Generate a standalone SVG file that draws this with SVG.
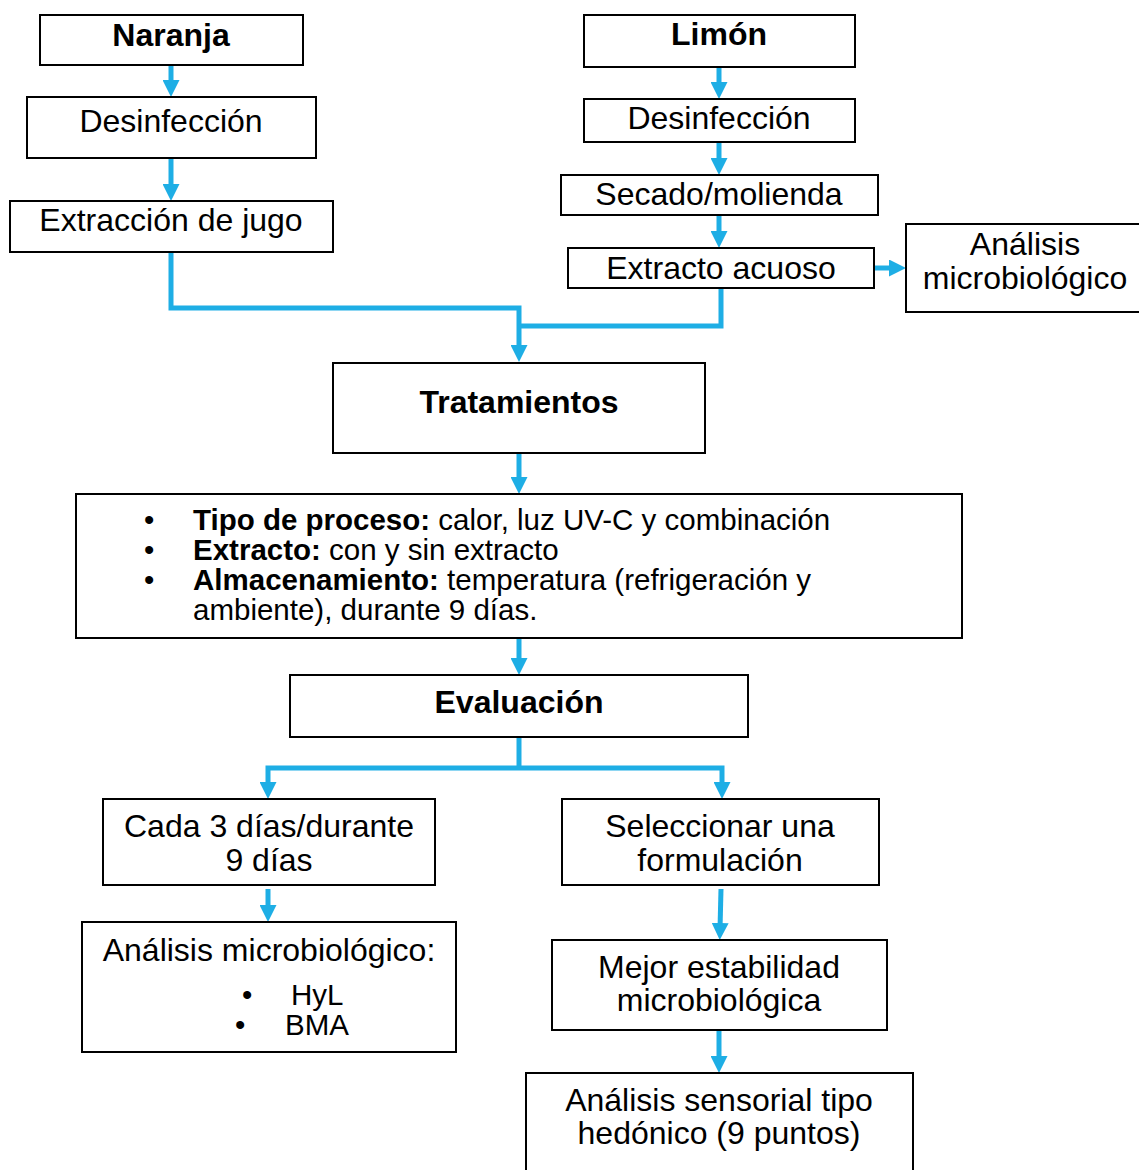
<svg xmlns="http://www.w3.org/2000/svg" width="1139" height="1170" viewBox="0 0 1139 1170">
<style>
.box{fill:#ffffff;stroke:#000000;stroke-width:2}
.t{font-family:"Liberation Sans",Arial,sans-serif;font-size:32px;fill:#000000;text-anchor:middle}
.b{font-weight:bold}
.lst{font-family:"Liberation Sans",Arial,sans-serif;font-size:29.5px;fill:#000000}
.c{fill:none;stroke:#1EAEE5;stroke-width:5;stroke-linejoin:miter}
</style>
<defs>
<marker id="ah" markerUnits="userSpaceOnUse" markerWidth="17" markerHeight="17" refX="6" refY="8.5" orient="auto">
<path d="M0,0 L17,8.5 L0,17 Z" fill="#1EAEE5"/>
</marker>
</defs>
<rect width="1139" height="1170" fill="#ffffff"/>
<g id="connectors">
<path class="c" d="M171,65 V86" marker-end="url(#ah)"/>
<path class="c" d="M171,158 V190" marker-end="url(#ah)"/>
<path class="c" d="M171,252 V308 H519 V351" marker-end="url(#ah)"/>
<path class="c" d="M721,288 V326 H519"/>
<path class="c" d="M719,67 V88" marker-end="url(#ah)"/>
<path class="c" d="M719,142 V164" marker-end="url(#ah)"/>
<path class="c" d="M719,215 V237" marker-end="url(#ah)"/>
<path class="c" d="M874,268 H895" marker-end="url(#ah)"/>
<path class="c" d="M519,453 V483" marker-end="url(#ah)"/>
<path class="c" d="M519,638 V664" marker-end="url(#ah)"/>
<path class="c" d="M519,737 V768"/>
<path class="c" d="M519,768 H268 V788" marker-end="url(#ah)"/>
<path class="c" d="M519,768 H722 V788" marker-end="url(#ah)"/>
<path class="c" d="M268,889 V911" marker-end="url(#ah)"/>
<path class="c" d="M721,889 L720,929" marker-end="url(#ah)"/>
<path class="c" d="M719,1030 V1062" marker-end="url(#ah)"/>
</g>
<g id="naranja">
<rect class="box" x="40" y="15" width="263" height="50"/>
<text class="t b" x="171" y="46">Naranja</text>
</g>
<g id="desinfeccion-naranja">
<rect class="box" x="27" y="97" width="289" height="61"/>
<text class="t" x="171" y="132">Desinfección</text>
</g>
<g id="extraccion-jugo">
<rect class="box" x="10" y="201" width="323" height="51"/>
<text class="t" x="171" y="231">Extracción de jugo</text>
</g>
<g id="limon">
<rect class="box" x="584" y="15" width="271" height="52"/>
<text class="t b" x="719" y="45">Limón</text>
</g>
<g id="desinfeccion-limon">
<rect class="box" x="584" y="99" width="271" height="43"/>
<text class="t" x="719" y="129">Desinfección</text>
</g>
<g id="secado-molienda">
<rect class="box" x="561" y="175" width="317" height="40"/>
<text class="t" x="719" y="205">Secado/molienda</text>
</g>
<g id="extracto-acuoso">
<rect class="box" x="568" y="248" width="306" height="40"/>
<text class="t" x="721" y="279">Extracto acuoso</text>
</g>
<g id="analisis-micro-limon">
<rect class="box" x="906" y="224" width="240" height="88"/>
<text class="t" x="1025" y="255">Análisis</text>
<text class="t" x="1025" y="289">microbiológico</text>
</g>
<g id="tratamientos">
<rect class="box" x="333" y="363" width="372" height="90"/>
<text class="t b" x="519" y="413">Tratamientos</text>
</g>
<g id="detalle-tratamientos">
<rect class="box" x="76" y="494" width="886" height="144"/>
<text class="lst" x="144" y="530">•</text>
<text class="lst" x="193" y="530"><tspan font-weight="bold">Tipo de proceso:</tspan> calor, luz UV-C y combinación</text>
<text class="lst" x="144" y="560">•</text>
<text class="lst" x="193" y="560"><tspan font-weight="bold">Extracto:</tspan> con y sin extracto</text>
<text class="lst" x="144" y="590">•</text>
<text class="lst" x="193" y="590"><tspan font-weight="bold">Almacenamiento:</tspan> temperatura (refrigeración y</text>
<text class="lst" x="193" y="620">ambiente), durante 9 días.</text>
</g>
<g id="evaluacion">
<rect class="box" x="290" y="675" width="458" height="62"/>
<text class="t b" x="519" y="713">Evaluación</text>
</g>
<g id="cada-3-dias">
<rect class="box" x="103" y="799" width="332" height="86"/>
<text class="t" x="269" y="837">Cada 3 días/durante</text>
<text class="t" x="269" y="871">9 días</text>
</g>
<g id="seleccionar">
<rect class="box" x="562" y="799" width="317" height="86"/>
<text class="t" x="720" y="837">Seleccionar una</text>
<text class="t" x="720" y="871">formulación</text>
</g>
<g id="analisis-micro">
<rect class="box" x="82" y="922" width="374" height="130"/>
<text class="t" x="269" y="961">Análisis microbiológico:</text>
<text class="lst" x="242" y="1005">•</text>
<text class="lst" x="291" y="1005">HyL</text>
<text class="lst" x="235" y="1035">•</text>
<text class="lst" x="285" y="1035">BMA</text>
</g>
<g id="mejor-estabilidad">
<rect class="box" x="552" y="940" width="335" height="90"/>
<text class="t" x="719" y="978">Mejor estabilidad</text>
<text class="t" x="719" y="1011">microbiológica</text>
</g>
<g id="analisis-sensorial">
<rect class="box" x="526" y="1073" width="387" height="110"/>
<text class="t" x="719" y="1111">Análisis sensorial tipo</text>
<text class="t" x="719" y="1144">hedónico (9 puntos)</text>
</g>
</svg>
